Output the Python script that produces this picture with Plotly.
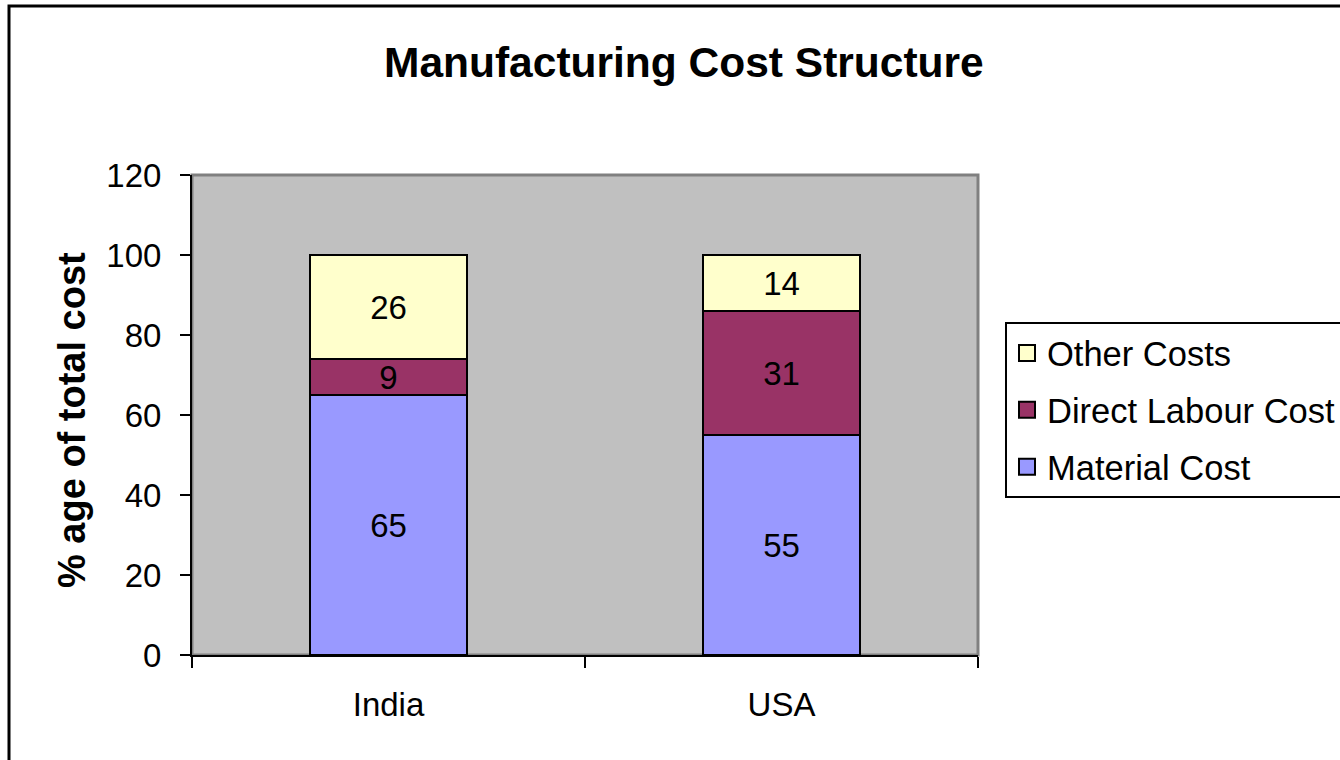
import plotly.graph_objects as go

categories = ["India", "USA"]
material_cost = [65, 55]
labour_cost = [9, 31]
other_costs = [26, 14]
y_ticks = [0, 20, 40, 60, 80, 100, 120]

FONT = "Liberation Sans, Arial, sans-serif"
L, R, T, B = 192, 1340 - 978, 175, 760 - 655
PW, PH = 978 - 192, 655 - 175

def px(x):
    return (x - L) / PW

def py(y):
    return (655 - y) / PH

fig = go.Figure()
series = [
    ("Material Cost", material_cost, "#9999FF", 3),
    ("Direct Labour Cost", labour_cost, "#993366", 2),
    ("Other Costs", other_costs, "#FFFFCC", 1),
]
for name, vals, col, rank in series:
    fig.add_trace(go.Bar(
        x=categories, y=vals, name=name, legendgroup=name, showlegend=False,
        marker=dict(color=col, line=dict(color="black", width=2.5)),
        width=0.4,
        text=[str(v) for v in vals], textposition="inside",
        insidetextanchor="middle", textangle=0,
        textfont=dict(family=FONT, size=33, color="black"),
        hoverinfo="skip",
    ))
# legend entries with larger square swatches
for name, vals, col, rank in series:
    fig.add_trace(go.Scatter(
        x=[None], y=[None], mode="markers", name=name, legendgroup=name, legendrank=rank,
        marker=dict(symbol="square", size=16, color=col, line=dict(color="black", width=2)),
        hoverinfo="skip",
    ))

fig.update_layout(
    width=1340, height=760,
    margin=dict(l=L, r=R, t=T, b=B, pad=0, autoexpand=False),
    barmode="stack",
    paper_bgcolor="white",
    plot_bgcolor="#C0C0C0",
    font=dict(family=FONT, color="black"),
    uniformtext=dict(minsize=33, mode="show"),
    showlegend=True,
    legend=dict(
        x=px(1005), y=py(322), xanchor="left", yanchor="top",
        traceorder="grouped", tracegroupgap=9,
        bordercolor="black", borderwidth=2, bgcolor="white",
        font=dict(family=FONT, size=34.5, color="black"),
        itemsizing="trace", itemwidth=30,
    ),
    xaxis=dict(
        type="category", range=[-0.5, 1.5],
        showline=True, linecolor="black", linewidth=2,
        ticks="outside", tickson="boundaries", ticklen=11, tickwidth=2, tickcolor="black",
        showgrid=False, zeroline=False,
        tickfont=dict(family=FONT, size=33, color="black"),
        ticklabelstandoff=19,
    ),
    yaxis=dict(
        range=[0, 120], tickvals=y_ticks,
        showline=True, linecolor="black", linewidth=2,
        ticks="outside", ticklen=10, tickwidth=2, tickcolor="black",
        showgrid=False, zeroline=False,
        tickfont=dict(family=FONT, size=33, color="black"),
        ticklabelstandoff=12,
    ),
    shapes=[
        dict(type="rect", xref="paper", yref="paper", x0=0, x1=1, y0=0, y1=1,
             line=dict(color="#808080", width=3), layer="below"),
        dict(type="rect", xref="paper", yref="paper", x0=px(9), x1=px(1400), y0=py(800), y1=py(6),
             line=dict(color="black", width=3), layer="above"),
    ],
    annotations=[
        dict(text="<b>Manufacturing Cost Structure</b>", xref="paper", yref="paper",
             x=px(684), y=py(63), xanchor="center", yanchor="middle", showarrow=False,
             font=dict(family=FONT, size=42.5, color="black")),
        dict(text="<b>% age of total cost</b>", xref="paper", yref="paper",
             x=px(72), y=py(420), xanchor="center", yanchor="middle", showarrow=False,
             textangle=-90, font=dict(family=FONT, size=38, color="black")),
    ],
)

fig.write_html("out.html", config={"displayModeBar": False},
               post_script="document.body.style.margin='0';document.body.style.overflow='hidden';")
